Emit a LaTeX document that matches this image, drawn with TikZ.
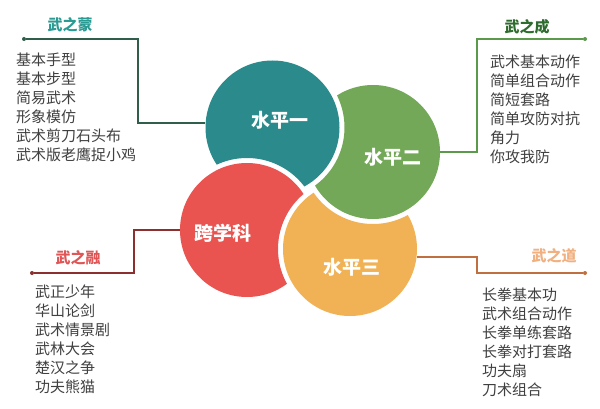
\documentclass[tikz,border=0pt]{standalone}
\usepackage{fontspec}
\setmainfont{Noto Sans CJK SC}
\usetikzlibrary{positioning,calc}
\definecolor{tealbub}{RGB}{42,138,140}
\definecolor{greenbub}{RGB}{114,168,87}
\definecolor{orangebub}{RGB}{240,178,85}
\definecolor{redbub}{RGB}{233,84,80}
\definecolor{headteal}{RGB}{43,154,147}
\definecolor{headgreen}{RGB}{46,107,46}
\definecolor{headred}{RGB}{224,85,85}
\definecolor{headorange}{RGB}{240,176,128}
\definecolor{lineteal}{RGB}{47,95,74}
\definecolor{linegreen}{RGB}{90,154,74}
\definecolor{linered}{RGB}{139,47,47}
\definecolor{lineorange}{RGB}{192,112,64}
\definecolor{textgray}{RGB}{64,64,64}
\tikzset{
  bubble/.style={circle,minimum size=134pt,inner sep=0pt},
  bubtext/.style={text=white,font=\fontsize{19}{22}\selectfont\bfseries},
  headtext/.style={font=\fontsize{15}{18}\selectfont\bfseries},
  listtext/.style={align=left,anchor=north west,inner sep=0pt,text=textgray,font=\fontsize{15}{19}\selectfont},
  linkline/.style={line width=1.4pt},
  enddot/.style={circle,fill,inner sep=0pt,minimum size=4pt}
}

\begin{document}
\begin{tikzpicture}[x=1pt,y=-1pt]
  \useasboundingbox[fill=white] (0,0) rectangle (600,409);

  % bubble centres
  \coordinate (c1) at (272.5,127.5);
  \coordinate (c2) at (373,152);
  \coordinate (c3) at (350,249);
  \coordinate (c4) at (247,230);

  % each bubble is cut by its neighbour
  \begin{scope}[even odd rule]
    \clip (0,0) rectangle (600,409) (c4) circle (72);
    \node[bubble,fill=tealbub] (lv1) at (c1) {};
  \end{scope}
  \begin{scope}[even odd rule]
    \clip (0,0) rectangle (600,409) (c1) circle (72);
    \node[bubble,fill=greenbub] (lv2) at (c2) {};
  \end{scope}
  \begin{scope}[even odd rule]
    \clip (0,0) rectangle (600,409) (c2) circle (72);
    \node[bubble,fill=orangebub] (lv3) at (c3) {};
  \end{scope}
  \begin{scope}[even odd rule]
    \clip (0,0) rectangle (600,409) (c3) circle (72);
    \node[bubble,fill=redbub] (lv4) at (c4) {};
  \end{scope}

  \node[bubtext] (t1) at (280,120) {水平一};
  \node[bubtext] (t2) at (393,157) {水平二};
  \node[bubtext] (t3) at (352,267) {水平三};
  \node[bubtext] (t4) at (223,233) {跨学科};

  % connectors
  \node[enddot,lineteal] (dotA) at (24,39) {};
  \coordinate (elbowA) at (138,39);
  \draw[linkline,lineteal] (dotA) -- (elbowA) |- (lv1.176);

  \node[enddot,linegreen] (dotB) at (585,39) {};
  \coordinate (elbowB) at (477,39);
  \draw[linkline,linegreen] (dotB) -- (elbowB) |- (lv2.east);

  \node[enddot,linered] (dotC) at (32,273) {};
  \coordinate (elbowC) at (134,273);
  \draw[linkline,linered] (dotC) -- (elbowC) |- (lv4.west);

  \node[enddot,lineorange] (dotD) at (585,273) {};
  \coordinate (elbowD) at (477,273);
  \draw[linkline,lineorange] (dotD) -- (elbowD) |- (lv3.-7);

  % headings
  \node[headtext,text=headteal] (headA) at (70,25) {武之蒙};
  \node[headtext,text=headgreen] (headB) at (527,27) {武之成};
  \node[headtext,text=headred] (headC) at (78,258) {武之融};
  \node[headtext,text=headorange] (headD) at (554,256) {武之道};

  % lists
  \node[listtext] (listA) at (16,52.5) {基本手型\\基本步型\\简易武术\\形象模仿\\武术剪刀石头布\\武术版老鹰捉小鸡};
  \node[listtext] (listB) at (490,54.5) {武术基本动作\\简单组合动作\\简短套路\\简单攻防对抗\\角力\\你攻我防};
  \node[listtext] (listC) at (35,284.5) {武正少年\\华山论剑\\武术情景剧\\武林大会\\楚汉之争\\功夫熊猫};
  \node[listtext] (listD) at (482,287.5) {长拳基本功\\武术组合动作\\长拳单练套路\\长拳对打套路\\功夫扇\\刀术组合};
\end{tikzpicture}
\end{document}
